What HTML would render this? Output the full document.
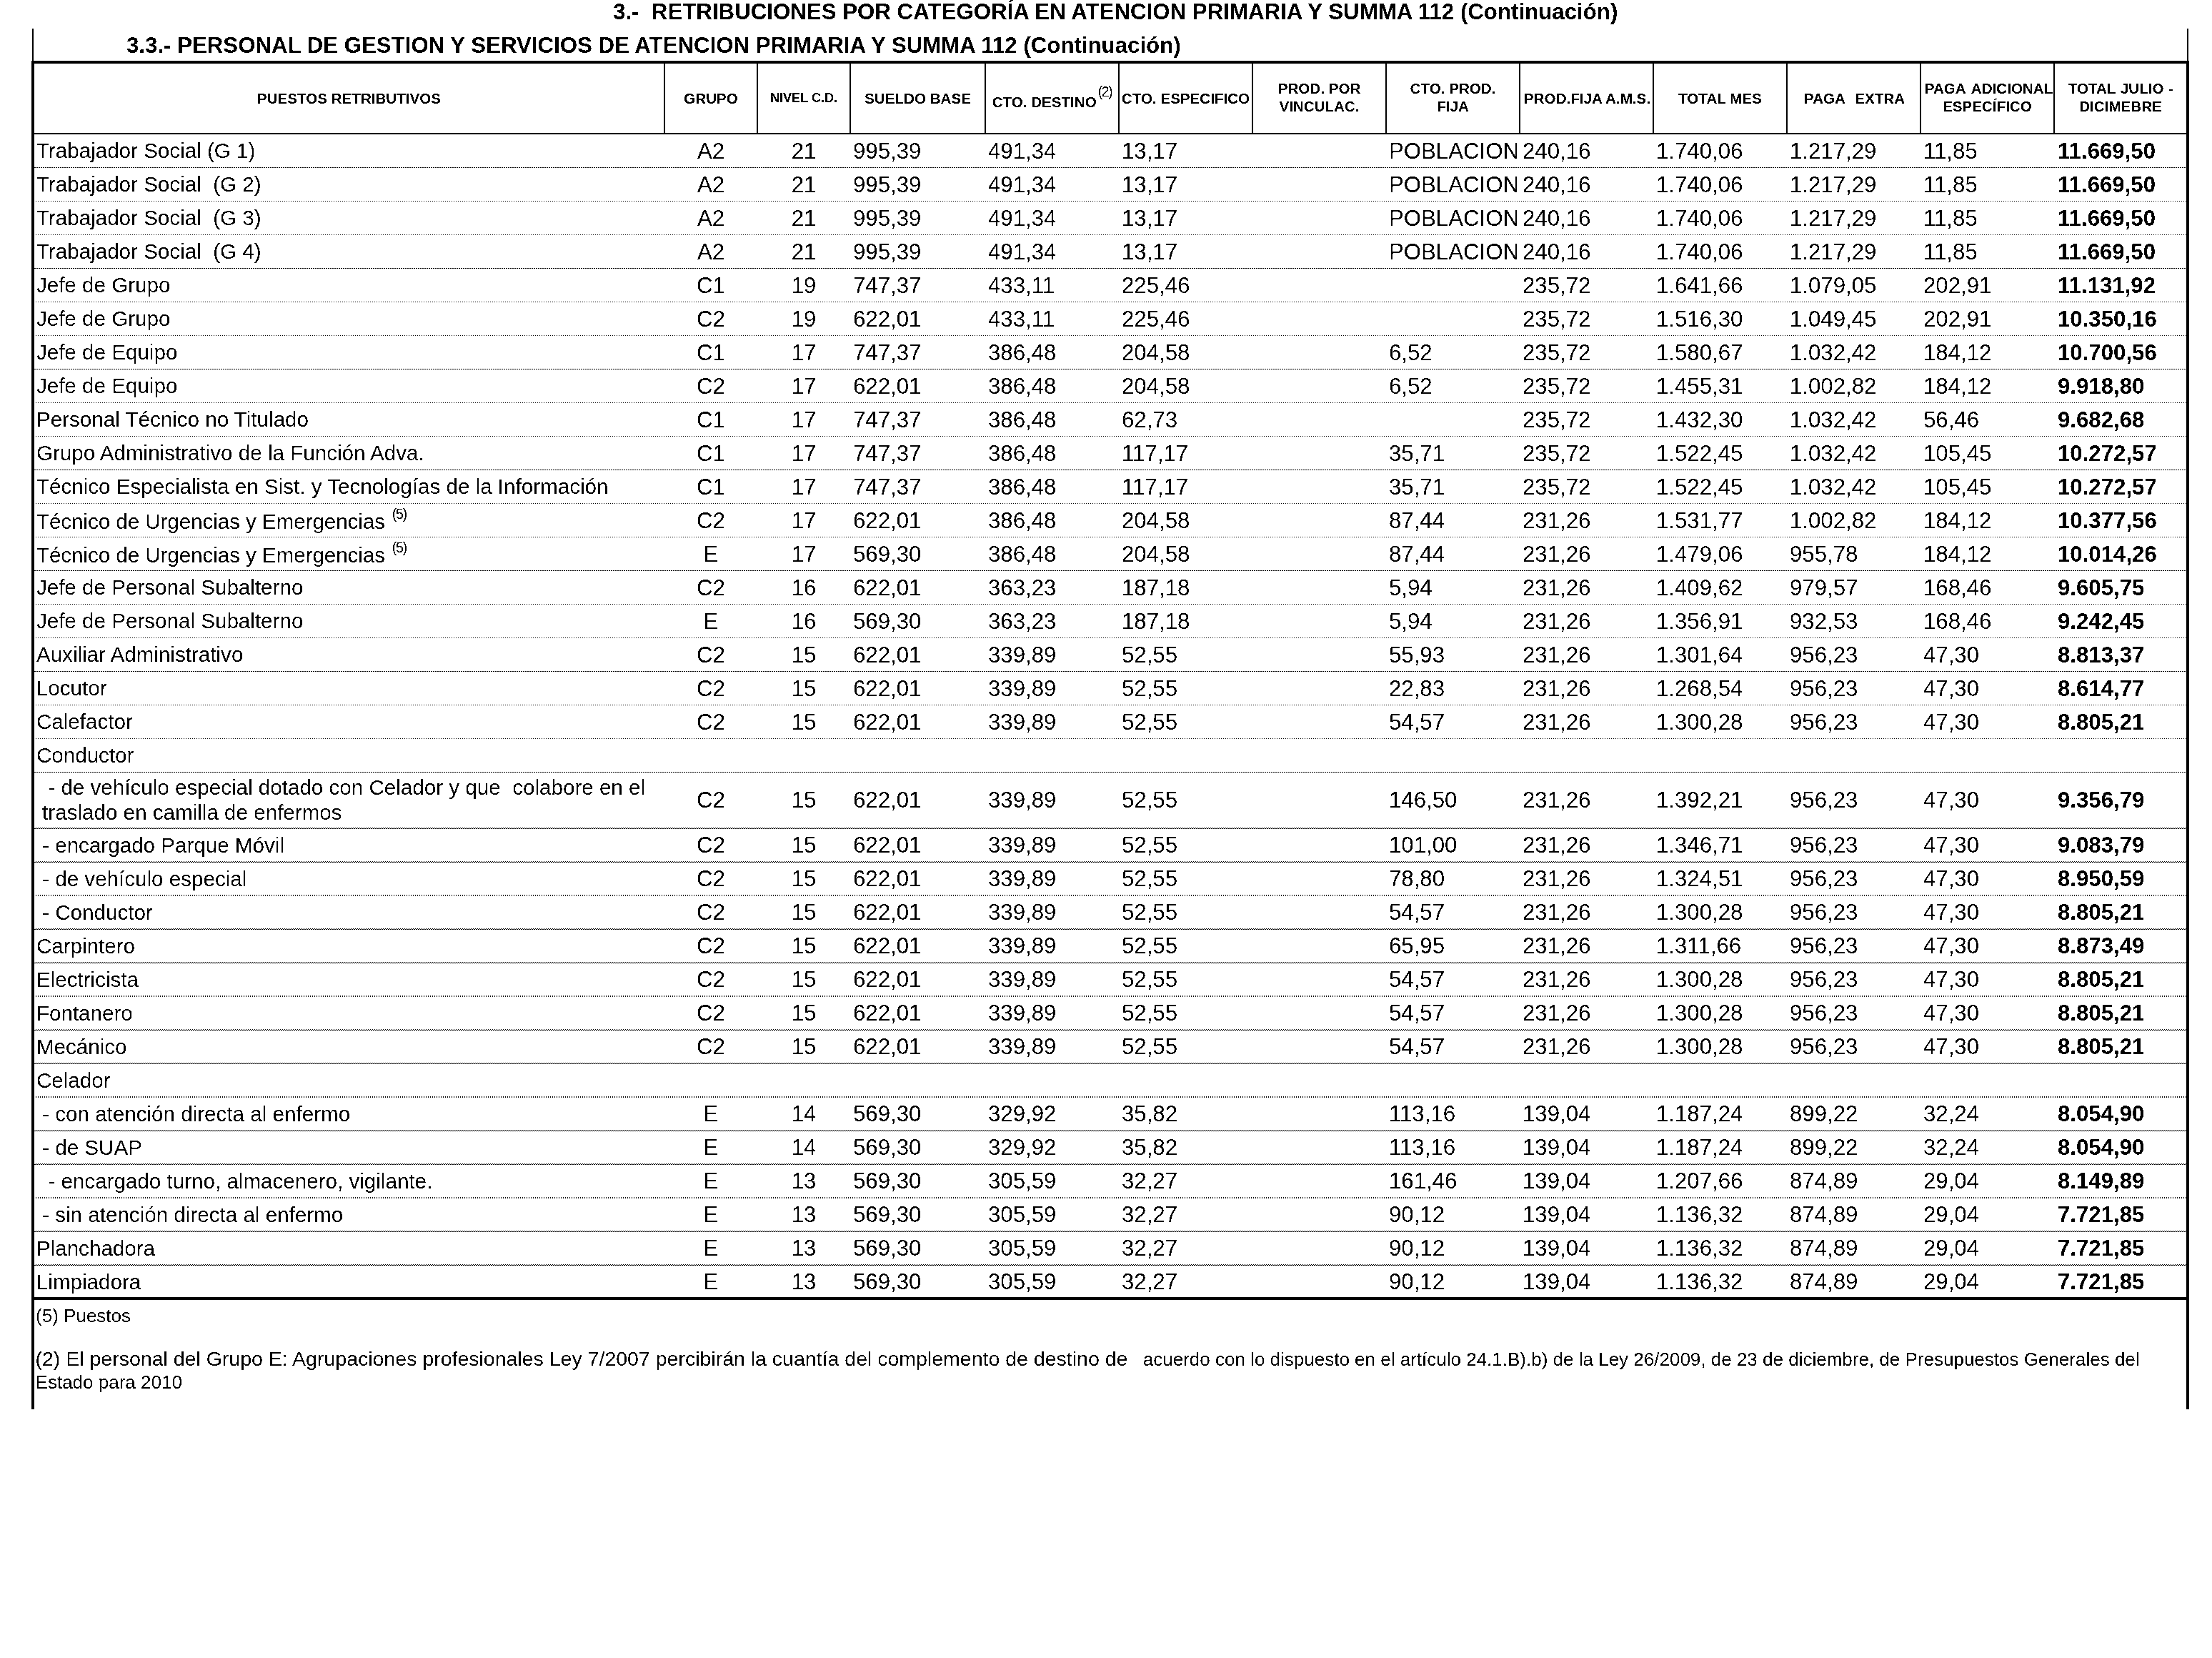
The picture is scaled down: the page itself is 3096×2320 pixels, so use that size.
<!DOCTYPE html>
<html lang="es"><head><meta charset="utf-8"><title>Retribuciones por categoría</title><style>
html,body{margin:0;padding:0;background:#fff;}
body{width:3096px;height:2320px;position:relative;overflow:hidden;font-family:"Liberation Sans",Arial,sans-serif;color:#000;}
#pg{position:absolute;left:0;top:0;width:3096px;height:2320px;background:#fff;filter:url(#bw);}
.t{position:absolute;white-space:pre;display:block;}
.t.c{text-align:center;}
.b{position:absolute;background:#000;}
.h{position:absolute;top:89px;height:97px;display:flex;align-items:center;justify-content:center;text-align:center;font-weight:bold;line-height:25px;white-space:pre;box-sizing:border-box;}
.h i{font-style:normal;}
.h sup{font-weight:normal;font-size:19.5px;line-height:0;vertical-align:14.6px;letter-spacing:-1.4px;margin-left:2px;}
.t sup{font-size:19.5px;line-height:0;vertical-align:13.8px;letter-spacing:-1.2px;margin-left:1.5px;}
.d1,.d2,.d3,.d4{position:absolute;left:48px;width:3012px;height:1px;}
.d1{background:repeating-linear-gradient(90deg,transparent 0 2px,#000 2px 3px);}
.d2{background:repeating-linear-gradient(90deg,#000 0 2px,transparent 2px 3px);}
.d3{height:2px;background:repeating-linear-gradient(90deg,transparent 0 2px,#000 2px 3px);}
.d4{background:repeating-linear-gradient(90deg,#000 0 2px,transparent 2px 3px);}
</style></head><body>
<svg width="0" height="0" style="position:absolute" aria-hidden="true"><filter id="bw" x="0" y="0" width="100%" height="100%" color-interpolation-filters="sRGB"><feComponentTransfer><feFuncR type="discrete" tableValues="0 1"/><feFuncG type="discrete" tableValues="0 1"/><feFuncB type="discrete" tableValues="0 1"/></feComponentTransfer></filter></svg>
<div id="pg">
<div class="b" style="left:45px;top:40px;width:2px;height:46px;"></div>
<div class="b" style="left:3061px;top:40px;width:2px;height:46px;"></div>
<div class="b" style="left:44px;top:85px;width:4px;height:1887px;"></div>
<div class="b" style="left:3060px;top:85px;width:4px;height:1887px;"></div>
<div class="b" style="left:44px;top:85px;width:3020px;height:4px;"></div>
<div class="b" style="left:44px;top:1815px;width:3020px;height:4px;"></div>
<div class="b" style="left:48px;top:186px;width:3012px;height:2px;"></div>
<div class="b" style="left:929px;top:89px;width:2px;height:97px;"></div>
<div class="b" style="left:1059px;top:89px;width:2px;height:97px;"></div>
<div class="b" style="left:1189px;top:89px;width:2px;height:97px;"></div>
<div class="b" style="left:1378px;top:89px;width:2px;height:97px;"></div>
<div class="b" style="left:1565px;top:89px;width:2px;height:97px;"></div>
<div class="b" style="left:1752px;top:89px;width:2px;height:97px;"></div>
<div class="b" style="left:1939px;top:89px;width:2px;height:97px;"></div>
<div class="b" style="left:2126px;top:89px;width:2px;height:97px;"></div>
<div class="b" style="left:2313px;top:89px;width:2px;height:97px;"></div>
<div class="b" style="left:2500px;top:89px;width:2px;height:97px;"></div>
<div class="b" style="left:2687px;top:89px;width:2px;height:97px;"></div>
<div class="b" style="left:2874px;top:89px;width:2px;height:97px;"></div>
<span class="t" style="left:858.00px;top:-2.83px;font-size:31.25px;line-height:40px;font-weight:bold;">3.-  RETRIBUCIONES POR CATEGORÍA EN ATENCION PRIMARIA Y SUMMA 112 (Continuación)</span>
<span class="t" style="left:177.00px;top:44.18px;font-size:31.22px;line-height:40px;font-weight:bold;">3.3.- PERSONAL DE GESTION Y SERVICIOS DE ATENCION PRIMARIA Y SUMMA 112 (Continuación)</span>
<div class="h" style="left:28px;width:921px;font-size:20.6px;"><span>PUESTOS RETRIBUTIVOS</span></div>
<div class="h" style="left:911px;width:168px;font-size:20.6px;"><span>GRUPO</span></div>
<div class="h" style="left:1041px;width:168px;font-size:18.1px;"><span>NIVEL C.D.</span></div>
<div class="h" style="left:1171px;width:227px;font-size:20.6px;"><span>SUELDO BASE</span></div>
<div class="h" style="left:1360px;width:225px;font-size:20.6px;padding-top:8px;"><span>CTO. DESTINO<sup>(2)</sup></span></div>
<div class="h" style="left:1547px;width:225px;font-size:20.6px;"><span>CTO. ESPECIFICO</span></div>
<div class="h" style="left:1734px;width:225px;font-size:20.6px;padding-bottom:3px;"><span>PROD. POR<br>VINCULAC.</span></div>
<div class="h" style="left:1921px;width:225px;font-size:20.6px;padding-bottom:3px;"><span>CTO. PROD.<br>FIJA</span></div>
<div class="h" style="left:2108px;width:225px;font-size:20.6px;"><span><i style="margin-left:2px">PROD.FIJA A.M.S.</i></span></div>
<div class="h" style="left:2295px;width:225px;font-size:20.6px;"><span>TOTAL MES</span></div>
<div class="h" style="left:2482px;width:225px;font-size:20.6px;"><span><i style="word-spacing:1.3px;margin-left:2px">PAGA  EXTRA</i></span></div>
<div class="h" style="left:2669px;width:225px;font-size:20.6px;padding-bottom:3px;"><span><i style="word-spacing:3px;margin-left:4px">PAGA ADICIONAL</i><br>ESPECÍFICO</span></div>
<div class="h" style="left:2856px;width:224px;font-size:20.6px;padding-bottom:3px;"><span><i style="word-spacing:1px;margin-left:1px">TOTAL JULIO -</i><br>DICIMEBRE</span></div>
<span class="t" style="left:50.90px;top:191.00px;font-size:29.6px;line-height:40px;">Trabajador Social (G 1)</span>
<span class="t c" style="left:931px;width:128px;top:192.00px;font-size:31.2px;line-height:40px">A2</span>
<span class="t c" style="left:1061px;width:128px;top:192.00px;font-size:31.2px;line-height:40px">21</span>
<span class="t" style="left:1194.00px;top:192.00px;font-size:31.2px;line-height:40px;">995,39</span>
<span class="t" style="left:1383.00px;top:192.00px;font-size:31.2px;line-height:40px;">491,34</span>
<span class="t" style="left:1570.00px;top:192.00px;font-size:31.2px;line-height:40px;">13,17</span>
<span class="t" style="left:1944.00px;top:192.00px;font-size:31.2px;line-height:40px;">POBLACION</span>
<span class="t" style="left:2131.00px;top:192.00px;font-size:31.2px;line-height:40px;">240,16</span>
<span class="t" style="left:2318.00px;top:192.00px;font-size:31.2px;line-height:40px;">1.740,06</span>
<span class="t" style="left:2505.00px;top:192.00px;font-size:31.2px;line-height:40px;">1.217,29</span>
<span class="t" style="left:2692.00px;top:192.00px;font-size:31.2px;line-height:40px;">11,85</span>
<span class="t" style="left:2880.00px;top:192.00px;font-size:31.2px;line-height:40px;font-weight:bold;">11.669,50</span>
<div class="d2" style="top:234px"></div>
<span class="t" style="left:50.90px;top:238.00px;font-size:29.6px;line-height:40px;">Trabajador Social  (G 2)</span>
<span class="t c" style="left:931px;width:128px;top:239.00px;font-size:31.2px;line-height:40px">A2</span>
<span class="t c" style="left:1061px;width:128px;top:239.00px;font-size:31.2px;line-height:40px">21</span>
<span class="t" style="left:1194.00px;top:239.00px;font-size:31.2px;line-height:40px;">995,39</span>
<span class="t" style="left:1383.00px;top:239.00px;font-size:31.2px;line-height:40px;">491,34</span>
<span class="t" style="left:1570.00px;top:239.00px;font-size:31.2px;line-height:40px;">13,17</span>
<span class="t" style="left:1944.00px;top:239.00px;font-size:31.2px;line-height:40px;">POBLACION</span>
<span class="t" style="left:2131.00px;top:239.00px;font-size:31.2px;line-height:40px;">240,16</span>
<span class="t" style="left:2318.00px;top:239.00px;font-size:31.2px;line-height:40px;">1.740,06</span>
<span class="t" style="left:2505.00px;top:239.00px;font-size:31.2px;line-height:40px;">1.217,29</span>
<span class="t" style="left:2692.00px;top:239.00px;font-size:31.2px;line-height:40px;">11,85</span>
<span class="t" style="left:2880.00px;top:239.00px;font-size:31.2px;line-height:40px;font-weight:bold;">11.669,50</span>
<div class="d1" style="top:281px"></div>
<span class="t" style="left:50.90px;top:285.00px;font-size:29.6px;line-height:40px;">Trabajador Social  (G 3)</span>
<span class="t c" style="left:931px;width:128px;top:286.00px;font-size:31.2px;line-height:40px">A2</span>
<span class="t c" style="left:1061px;width:128px;top:286.00px;font-size:31.2px;line-height:40px">21</span>
<span class="t" style="left:1194.00px;top:286.00px;font-size:31.2px;line-height:40px;">995,39</span>
<span class="t" style="left:1383.00px;top:286.00px;font-size:31.2px;line-height:40px;">491,34</span>
<span class="t" style="left:1570.00px;top:286.00px;font-size:31.2px;line-height:40px;">13,17</span>
<span class="t" style="left:1944.00px;top:286.00px;font-size:31.2px;line-height:40px;">POBLACION</span>
<span class="t" style="left:2131.00px;top:286.00px;font-size:31.2px;line-height:40px;">240,16</span>
<span class="t" style="left:2318.00px;top:286.00px;font-size:31.2px;line-height:40px;">1.740,06</span>
<span class="t" style="left:2505.00px;top:286.00px;font-size:31.2px;line-height:40px;">1.217,29</span>
<span class="t" style="left:2692.00px;top:286.00px;font-size:31.2px;line-height:40px;">11,85</span>
<span class="t" style="left:2880.00px;top:286.00px;font-size:31.2px;line-height:40px;font-weight:bold;">11.669,50</span>
<div class="d1" style="top:328px"></div>
<span class="t" style="left:50.90px;top:332.00px;font-size:29.6px;line-height:40px;">Trabajador Social  (G 4)</span>
<span class="t c" style="left:931px;width:128px;top:333.00px;font-size:31.2px;line-height:40px">A2</span>
<span class="t c" style="left:1061px;width:128px;top:333.00px;font-size:31.2px;line-height:40px">21</span>
<span class="t" style="left:1194.00px;top:333.00px;font-size:31.2px;line-height:40px;">995,39</span>
<span class="t" style="left:1383.00px;top:333.00px;font-size:31.2px;line-height:40px;">491,34</span>
<span class="t" style="left:1570.00px;top:333.00px;font-size:31.2px;line-height:40px;">13,17</span>
<span class="t" style="left:1944.00px;top:333.00px;font-size:31.2px;line-height:40px;">POBLACION</span>
<span class="t" style="left:2131.00px;top:333.00px;font-size:31.2px;line-height:40px;">240,16</span>
<span class="t" style="left:2318.00px;top:333.00px;font-size:31.2px;line-height:40px;">1.740,06</span>
<span class="t" style="left:2505.00px;top:333.00px;font-size:31.2px;line-height:40px;">1.217,29</span>
<span class="t" style="left:2692.00px;top:333.00px;font-size:31.2px;line-height:40px;">11,85</span>
<span class="t" style="left:2880.00px;top:333.00px;font-size:31.2px;line-height:40px;font-weight:bold;">11.669,50</span>
<div class="d2" style="top:375px"></div>
<span class="t" style="left:50.90px;top:379.00px;font-size:29.6px;line-height:40px;">Jefe de Grupo</span>
<span class="t c" style="left:931px;width:128px;top:380.00px;font-size:31.2px;line-height:40px">C1</span>
<span class="t c" style="left:1061px;width:128px;top:380.00px;font-size:31.2px;line-height:40px">19</span>
<span class="t" style="left:1194.00px;top:380.00px;font-size:31.2px;line-height:40px;">747,37</span>
<span class="t" style="left:1383.00px;top:380.00px;font-size:31.2px;line-height:40px;">433,11</span>
<span class="t" style="left:1570.00px;top:380.00px;font-size:31.2px;line-height:40px;">225,46</span>
<span class="t" style="left:2131.00px;top:380.00px;font-size:31.2px;line-height:40px;">235,72</span>
<span class="t" style="left:2318.00px;top:380.00px;font-size:31.2px;line-height:40px;">1.641,66</span>
<span class="t" style="left:2505.00px;top:380.00px;font-size:31.2px;line-height:40px;">1.079,05</span>
<span class="t" style="left:2692.00px;top:380.00px;font-size:31.2px;line-height:40px;">202,91</span>
<span class="t" style="left:2880.00px;top:380.00px;font-size:31.2px;line-height:40px;font-weight:bold;">11.131,92</span>
<div class="d1" style="top:422px"></div>
<span class="t" style="left:50.90px;top:426.00px;font-size:29.6px;line-height:40px;">Jefe de Grupo</span>
<span class="t c" style="left:931px;width:128px;top:427.00px;font-size:31.2px;line-height:40px">C2</span>
<span class="t c" style="left:1061px;width:128px;top:427.00px;font-size:31.2px;line-height:40px">19</span>
<span class="t" style="left:1194.00px;top:427.00px;font-size:31.2px;line-height:40px;">622,01</span>
<span class="t" style="left:1383.00px;top:427.00px;font-size:31.2px;line-height:40px;">433,11</span>
<span class="t" style="left:1570.00px;top:427.00px;font-size:31.2px;line-height:40px;">225,46</span>
<span class="t" style="left:2131.00px;top:427.00px;font-size:31.2px;line-height:40px;">235,72</span>
<span class="t" style="left:2318.00px;top:427.00px;font-size:31.2px;line-height:40px;">1.516,30</span>
<span class="t" style="left:2505.00px;top:427.00px;font-size:31.2px;line-height:40px;">1.049,45</span>
<span class="t" style="left:2692.00px;top:427.00px;font-size:31.2px;line-height:40px;">202,91</span>
<span class="t" style="left:2880.00px;top:427.00px;font-size:31.2px;line-height:40px;font-weight:bold;">10.350,16</span>
<div class="d1" style="top:469px"></div>
<span class="t" style="left:50.90px;top:473.00px;font-size:29.6px;line-height:40px;">Jefe de Equipo</span>
<span class="t c" style="left:931px;width:128px;top:474.00px;font-size:31.2px;line-height:40px">C1</span>
<span class="t c" style="left:1061px;width:128px;top:474.00px;font-size:31.2px;line-height:40px">17</span>
<span class="t" style="left:1194.00px;top:474.00px;font-size:31.2px;line-height:40px;">747,37</span>
<span class="t" style="left:1383.00px;top:474.00px;font-size:31.2px;line-height:40px;">386,48</span>
<span class="t" style="left:1570.00px;top:474.00px;font-size:31.2px;line-height:40px;">204,58</span>
<span class="t" style="left:1944.00px;top:474.00px;font-size:31.2px;line-height:40px;">6,52</span>
<span class="t" style="left:2131.00px;top:474.00px;font-size:31.2px;line-height:40px;">235,72</span>
<span class="t" style="left:2318.00px;top:474.00px;font-size:31.2px;line-height:40px;">1.580,67</span>
<span class="t" style="left:2505.00px;top:474.00px;font-size:31.2px;line-height:40px;">1.032,42</span>
<span class="t" style="left:2692.00px;top:474.00px;font-size:31.2px;line-height:40px;">184,12</span>
<span class="t" style="left:2880.00px;top:474.00px;font-size:31.2px;line-height:40px;font-weight:bold;">10.700,56</span>
<div class="d2" style="top:516px"></div>
<span class="t" style="left:50.90px;top:520.00px;font-size:29.6px;line-height:40px;">Jefe de Equipo</span>
<span class="t c" style="left:931px;width:128px;top:521.00px;font-size:31.2px;line-height:40px">C2</span>
<span class="t c" style="left:1061px;width:128px;top:521.00px;font-size:31.2px;line-height:40px">17</span>
<span class="t" style="left:1194.00px;top:521.00px;font-size:31.2px;line-height:40px;">622,01</span>
<span class="t" style="left:1383.00px;top:521.00px;font-size:31.2px;line-height:40px;">386,48</span>
<span class="t" style="left:1570.00px;top:521.00px;font-size:31.2px;line-height:40px;">204,58</span>
<span class="t" style="left:1944.00px;top:521.00px;font-size:31.2px;line-height:40px;">6,52</span>
<span class="t" style="left:2131.00px;top:521.00px;font-size:31.2px;line-height:40px;">235,72</span>
<span class="t" style="left:2318.00px;top:521.00px;font-size:31.2px;line-height:40px;">1.455,31</span>
<span class="t" style="left:2505.00px;top:521.00px;font-size:31.2px;line-height:40px;">1.002,82</span>
<span class="t" style="left:2692.00px;top:521.00px;font-size:31.2px;line-height:40px;">184,12</span>
<span class="t" style="left:2880.00px;top:521.00px;font-size:31.2px;line-height:40px;font-weight:bold;">9.918,80</span>
<div class="d1" style="top:563px"></div>
<span class="t" style="left:50.90px;top:567.00px;font-size:29.6px;line-height:40px;">Personal Técnico no Titulado</span>
<span class="t c" style="left:931px;width:128px;top:568.00px;font-size:31.2px;line-height:40px">C1</span>
<span class="t c" style="left:1061px;width:128px;top:568.00px;font-size:31.2px;line-height:40px">17</span>
<span class="t" style="left:1194.00px;top:568.00px;font-size:31.2px;line-height:40px;">747,37</span>
<span class="t" style="left:1383.00px;top:568.00px;font-size:31.2px;line-height:40px;">386,48</span>
<span class="t" style="left:1570.00px;top:568.00px;font-size:31.2px;line-height:40px;">62,73</span>
<span class="t" style="left:2131.00px;top:568.00px;font-size:31.2px;line-height:40px;">235,72</span>
<span class="t" style="left:2318.00px;top:568.00px;font-size:31.2px;line-height:40px;">1.432,30</span>
<span class="t" style="left:2505.00px;top:568.00px;font-size:31.2px;line-height:40px;">1.032,42</span>
<span class="t" style="left:2692.00px;top:568.00px;font-size:31.2px;line-height:40px;">56,46</span>
<span class="t" style="left:2880.00px;top:568.00px;font-size:31.2px;line-height:40px;font-weight:bold;">9.682,68</span>
<div class="d1" style="top:610px"></div>
<span class="t" style="left:50.90px;top:614.00px;font-size:29.6px;line-height:40px;">Grupo Administrativo de la Función Adva.</span>
<span class="t c" style="left:931px;width:128px;top:615.00px;font-size:31.2px;line-height:40px">C1</span>
<span class="t c" style="left:1061px;width:128px;top:615.00px;font-size:31.2px;line-height:40px">17</span>
<span class="t" style="left:1194.00px;top:615.00px;font-size:31.2px;line-height:40px;">747,37</span>
<span class="t" style="left:1383.00px;top:615.00px;font-size:31.2px;line-height:40px;">386,48</span>
<span class="t" style="left:1570.00px;top:615.00px;font-size:31.2px;line-height:40px;">117,17</span>
<span class="t" style="left:1944.00px;top:615.00px;font-size:31.2px;line-height:40px;">35,71</span>
<span class="t" style="left:2131.00px;top:615.00px;font-size:31.2px;line-height:40px;">235,72</span>
<span class="t" style="left:2318.00px;top:615.00px;font-size:31.2px;line-height:40px;">1.522,45</span>
<span class="t" style="left:2505.00px;top:615.00px;font-size:31.2px;line-height:40px;">1.032,42</span>
<span class="t" style="left:2692.00px;top:615.00px;font-size:31.2px;line-height:40px;">105,45</span>
<span class="t" style="left:2880.00px;top:615.00px;font-size:31.2px;line-height:40px;font-weight:bold;">10.272,57</span>
<div class="d2" style="top:657px"></div>
<span class="t" style="left:50.90px;top:661.00px;font-size:29.6px;line-height:40px;">Técnico Especialista en Sist. y Tecnologías de la Información</span>
<span class="t c" style="left:931px;width:128px;top:662.00px;font-size:31.2px;line-height:40px">C1</span>
<span class="t c" style="left:1061px;width:128px;top:662.00px;font-size:31.2px;line-height:40px">17</span>
<span class="t" style="left:1194.00px;top:662.00px;font-size:31.2px;line-height:40px;">747,37</span>
<span class="t" style="left:1383.00px;top:662.00px;font-size:31.2px;line-height:40px;">386,48</span>
<span class="t" style="left:1570.00px;top:662.00px;font-size:31.2px;line-height:40px;">117,17</span>
<span class="t" style="left:1944.00px;top:662.00px;font-size:31.2px;line-height:40px;">35,71</span>
<span class="t" style="left:2131.00px;top:662.00px;font-size:31.2px;line-height:40px;">235,72</span>
<span class="t" style="left:2318.00px;top:662.00px;font-size:31.2px;line-height:40px;">1.522,45</span>
<span class="t" style="left:2505.00px;top:662.00px;font-size:31.2px;line-height:40px;">1.032,42</span>
<span class="t" style="left:2692.00px;top:662.00px;font-size:31.2px;line-height:40px;">105,45</span>
<span class="t" style="left:2880.00px;top:662.00px;font-size:31.2px;line-height:40px;font-weight:bold;">10.272,57</span>
<div class="d1" style="top:704px"></div>
<span class="t" style="left:50.90px;top:709.50px;font-size:29.6px;line-height:40px;letter-spacing:-0.06px;">Técnico de Urgencias y Emergencias <sup>(5)</sup></span>
<span class="t c" style="left:931px;width:128px;top:709.00px;font-size:31.2px;line-height:40px">C2</span>
<span class="t c" style="left:1061px;width:128px;top:709.00px;font-size:31.2px;line-height:40px">17</span>
<span class="t" style="left:1194.00px;top:709.00px;font-size:31.2px;line-height:40px;">622,01</span>
<span class="t" style="left:1383.00px;top:709.00px;font-size:31.2px;line-height:40px;">386,48</span>
<span class="t" style="left:1570.00px;top:709.00px;font-size:31.2px;line-height:40px;">204,58</span>
<span class="t" style="left:1944.00px;top:709.00px;font-size:31.2px;line-height:40px;">87,44</span>
<span class="t" style="left:2131.00px;top:709.00px;font-size:31.2px;line-height:40px;">231,26</span>
<span class="t" style="left:2318.00px;top:709.00px;font-size:31.2px;line-height:40px;">1.531,77</span>
<span class="t" style="left:2505.00px;top:709.00px;font-size:31.2px;line-height:40px;">1.002,82</span>
<span class="t" style="left:2692.00px;top:709.00px;font-size:31.2px;line-height:40px;">184,12</span>
<span class="t" style="left:2880.00px;top:709.00px;font-size:31.2px;line-height:40px;font-weight:bold;">10.377,56</span>
<div class="d1" style="top:751px"></div>
<span class="t" style="left:50.90px;top:756.50px;font-size:29.6px;line-height:40px;letter-spacing:-0.06px;">Técnico de Urgencias y Emergencias <sup>(5)</sup></span>
<span class="t c" style="left:931px;width:128px;top:756.00px;font-size:31.2px;line-height:40px">E</span>
<span class="t c" style="left:1061px;width:128px;top:756.00px;font-size:31.2px;line-height:40px">17</span>
<span class="t" style="left:1194.00px;top:756.00px;font-size:31.2px;line-height:40px;">569,30</span>
<span class="t" style="left:1383.00px;top:756.00px;font-size:31.2px;line-height:40px;">386,48</span>
<span class="t" style="left:1570.00px;top:756.00px;font-size:31.2px;line-height:40px;">204,58</span>
<span class="t" style="left:1944.00px;top:756.00px;font-size:31.2px;line-height:40px;">87,44</span>
<span class="t" style="left:2131.00px;top:756.00px;font-size:31.2px;line-height:40px;">231,26</span>
<span class="t" style="left:2318.00px;top:756.00px;font-size:31.2px;line-height:40px;">1.479,06</span>
<span class="t" style="left:2505.00px;top:756.00px;font-size:31.2px;line-height:40px;">955,78</span>
<span class="t" style="left:2692.00px;top:756.00px;font-size:31.2px;line-height:40px;">184,12</span>
<span class="t" style="left:2880.00px;top:756.00px;font-size:31.2px;line-height:40px;font-weight:bold;">10.014,26</span>
<div class="d2" style="top:798px"></div>
<span class="t" style="left:50.90px;top:802.00px;font-size:29.6px;line-height:40px;">Jefe de Personal Subalterno</span>
<span class="t c" style="left:931px;width:128px;top:803.00px;font-size:31.2px;line-height:40px">C2</span>
<span class="t c" style="left:1061px;width:128px;top:803.00px;font-size:31.2px;line-height:40px">16</span>
<span class="t" style="left:1194.00px;top:803.00px;font-size:31.2px;line-height:40px;">622,01</span>
<span class="t" style="left:1383.00px;top:803.00px;font-size:31.2px;line-height:40px;">363,23</span>
<span class="t" style="left:1570.00px;top:803.00px;font-size:31.2px;line-height:40px;">187,18</span>
<span class="t" style="left:1944.00px;top:803.00px;font-size:31.2px;line-height:40px;">5,94</span>
<span class="t" style="left:2131.00px;top:803.00px;font-size:31.2px;line-height:40px;">231,26</span>
<span class="t" style="left:2318.00px;top:803.00px;font-size:31.2px;line-height:40px;">1.409,62</span>
<span class="t" style="left:2505.00px;top:803.00px;font-size:31.2px;line-height:40px;">979,57</span>
<span class="t" style="left:2692.00px;top:803.00px;font-size:31.2px;line-height:40px;">168,46</span>
<span class="t" style="left:2880.00px;top:803.00px;font-size:31.2px;line-height:40px;font-weight:bold;">9.605,75</span>
<div class="d1" style="top:845px"></div>
<span class="t" style="left:50.90px;top:849.00px;font-size:29.6px;line-height:40px;">Jefe de Personal Subalterno</span>
<span class="t c" style="left:931px;width:128px;top:850.00px;font-size:31.2px;line-height:40px">E</span>
<span class="t c" style="left:1061px;width:128px;top:850.00px;font-size:31.2px;line-height:40px">16</span>
<span class="t" style="left:1194.00px;top:850.00px;font-size:31.2px;line-height:40px;">569,30</span>
<span class="t" style="left:1383.00px;top:850.00px;font-size:31.2px;line-height:40px;">363,23</span>
<span class="t" style="left:1570.00px;top:850.00px;font-size:31.2px;line-height:40px;">187,18</span>
<span class="t" style="left:1944.00px;top:850.00px;font-size:31.2px;line-height:40px;">5,94</span>
<span class="t" style="left:2131.00px;top:850.00px;font-size:31.2px;line-height:40px;">231,26</span>
<span class="t" style="left:2318.00px;top:850.00px;font-size:31.2px;line-height:40px;">1.356,91</span>
<span class="t" style="left:2505.00px;top:850.00px;font-size:31.2px;line-height:40px;">932,53</span>
<span class="t" style="left:2692.00px;top:850.00px;font-size:31.2px;line-height:40px;">168,46</span>
<span class="t" style="left:2880.00px;top:850.00px;font-size:31.2px;line-height:40px;font-weight:bold;">9.242,45</span>
<div class="d1" style="top:892px"></div>
<span class="t" style="left:50.90px;top:896.00px;font-size:29.6px;line-height:40px;">Auxiliar Administrativo</span>
<span class="t c" style="left:931px;width:128px;top:897.00px;font-size:31.2px;line-height:40px">C2</span>
<span class="t c" style="left:1061px;width:128px;top:897.00px;font-size:31.2px;line-height:40px">15</span>
<span class="t" style="left:1194.00px;top:897.00px;font-size:31.2px;line-height:40px;">622,01</span>
<span class="t" style="left:1383.00px;top:897.00px;font-size:31.2px;line-height:40px;">339,89</span>
<span class="t" style="left:1570.00px;top:897.00px;font-size:31.2px;line-height:40px;">52,55</span>
<span class="t" style="left:1944.00px;top:897.00px;font-size:31.2px;line-height:40px;">55,93</span>
<span class="t" style="left:2131.00px;top:897.00px;font-size:31.2px;line-height:40px;">231,26</span>
<span class="t" style="left:2318.00px;top:897.00px;font-size:31.2px;line-height:40px;">1.301,64</span>
<span class="t" style="left:2505.00px;top:897.00px;font-size:31.2px;line-height:40px;">956,23</span>
<span class="t" style="left:2692.00px;top:897.00px;font-size:31.2px;line-height:40px;">47,30</span>
<span class="t" style="left:2880.00px;top:897.00px;font-size:31.2px;line-height:40px;font-weight:bold;">8.813,37</span>
<div class="d2" style="top:939px"></div>
<span class="t" style="left:50.90px;top:943.00px;font-size:29.6px;line-height:40px;">Locutor</span>
<span class="t c" style="left:931px;width:128px;top:944.00px;font-size:31.2px;line-height:40px">C2</span>
<span class="t c" style="left:1061px;width:128px;top:944.00px;font-size:31.2px;line-height:40px">15</span>
<span class="t" style="left:1194.00px;top:944.00px;font-size:31.2px;line-height:40px;">622,01</span>
<span class="t" style="left:1383.00px;top:944.00px;font-size:31.2px;line-height:40px;">339,89</span>
<span class="t" style="left:1570.00px;top:944.00px;font-size:31.2px;line-height:40px;">52,55</span>
<span class="t" style="left:1944.00px;top:944.00px;font-size:31.2px;line-height:40px;">22,83</span>
<span class="t" style="left:2131.00px;top:944.00px;font-size:31.2px;line-height:40px;">231,26</span>
<span class="t" style="left:2318.00px;top:944.00px;font-size:31.2px;line-height:40px;">1.268,54</span>
<span class="t" style="left:2505.00px;top:944.00px;font-size:31.2px;line-height:40px;">956,23</span>
<span class="t" style="left:2692.00px;top:944.00px;font-size:31.2px;line-height:40px;">47,30</span>
<span class="t" style="left:2880.00px;top:944.00px;font-size:31.2px;line-height:40px;font-weight:bold;">8.614,77</span>
<div class="d1" style="top:986px"></div>
<span class="t" style="left:50.90px;top:990.00px;font-size:29.6px;line-height:40px;">Calefactor</span>
<span class="t c" style="left:931px;width:128px;top:991.00px;font-size:31.2px;line-height:40px">C2</span>
<span class="t c" style="left:1061px;width:128px;top:991.00px;font-size:31.2px;line-height:40px">15</span>
<span class="t" style="left:1194.00px;top:991.00px;font-size:31.2px;line-height:40px;">622,01</span>
<span class="t" style="left:1383.00px;top:991.00px;font-size:31.2px;line-height:40px;">339,89</span>
<span class="t" style="left:1570.00px;top:991.00px;font-size:31.2px;line-height:40px;">52,55</span>
<span class="t" style="left:1944.00px;top:991.00px;font-size:31.2px;line-height:40px;">54,57</span>
<span class="t" style="left:2131.00px;top:991.00px;font-size:31.2px;line-height:40px;">231,26</span>
<span class="t" style="left:2318.00px;top:991.00px;font-size:31.2px;line-height:40px;">1.300,28</span>
<span class="t" style="left:2505.00px;top:991.00px;font-size:31.2px;line-height:40px;">956,23</span>
<span class="t" style="left:2692.00px;top:991.00px;font-size:31.2px;line-height:40px;">47,30</span>
<span class="t" style="left:2880.00px;top:991.00px;font-size:31.2px;line-height:40px;font-weight:bold;">8.805,21</span>
<div class="d1" style="top:1033px"></div>
<span class="t" style="left:50.90px;top:1037.00px;font-size:29.6px;line-height:40px;">Conductor</span>
<div class="d2" style="top:1080px"></div>
<span class="t" style="left:50.90px;top:1082.44px;font-size:29.6px;line-height:40px;">  - de vehículo especial dotado con Celador y que  colabore en el</span>
<span class="t" style="left:50.90px;top:1117.44px;font-size:29.6px;line-height:40px;"> traslado en camilla de enfermos</span>
<span class="t c" style="left:931px;width:128px;top:1100.00px;font-size:31.2px;line-height:40px">C2</span>
<span class="t c" style="left:1061px;width:128px;top:1100.00px;font-size:31.2px;line-height:40px">15</span>
<span class="t" style="left:1194.00px;top:1100.00px;font-size:31.2px;line-height:40px;">622,01</span>
<span class="t" style="left:1383.00px;top:1100.00px;font-size:31.2px;line-height:40px;">339,89</span>
<span class="t" style="left:1570.00px;top:1100.00px;font-size:31.2px;line-height:40px;">52,55</span>
<span class="t" style="left:1944.00px;top:1100.00px;font-size:31.2px;line-height:40px;">146,50</span>
<span class="t" style="left:2131.00px;top:1100.00px;font-size:31.2px;line-height:40px;">231,26</span>
<span class="t" style="left:2318.00px;top:1100.00px;font-size:31.2px;line-height:40px;">1.392,21</span>
<span class="t" style="left:2505.00px;top:1100.00px;font-size:31.2px;line-height:40px;">956,23</span>
<span class="t" style="left:2692.00px;top:1100.00px;font-size:31.2px;line-height:40px;">47,30</span>
<span class="t" style="left:2880.00px;top:1100.00px;font-size:31.2px;line-height:40px;font-weight:bold;">9.356,79</span>
<div class="d1" style="top:1158px"></div><div class="d4" style="top:1159px"></div>
<span class="t" style="left:50.90px;top:1163.00px;font-size:29.6px;line-height:40px;"> - encargado Parque Móvil</span>
<span class="t c" style="left:931px;width:128px;top:1163.00px;font-size:31.2px;line-height:40px">C2</span>
<span class="t c" style="left:1061px;width:128px;top:1163.00px;font-size:31.2px;line-height:40px">15</span>
<span class="t" style="left:1194.00px;top:1163.00px;font-size:31.2px;line-height:40px;">622,01</span>
<span class="t" style="left:1383.00px;top:1163.00px;font-size:31.2px;line-height:40px;">339,89</span>
<span class="t" style="left:1570.00px;top:1163.00px;font-size:31.2px;line-height:40px;">52,55</span>
<span class="t" style="left:1944.00px;top:1163.00px;font-size:31.2px;line-height:40px;">101,00</span>
<span class="t" style="left:2131.00px;top:1163.00px;font-size:31.2px;line-height:40px;">231,26</span>
<span class="t" style="left:2318.00px;top:1163.00px;font-size:31.2px;line-height:40px;">1.346,71</span>
<span class="t" style="left:2505.00px;top:1163.00px;font-size:31.2px;line-height:40px;">956,23</span>
<span class="t" style="left:2692.00px;top:1163.00px;font-size:31.2px;line-height:40px;">47,30</span>
<span class="t" style="left:2880.00px;top:1163.00px;font-size:31.2px;line-height:40px;font-weight:bold;">9.083,79</span>
<div class="d1" style="top:1205px"></div><div class="d4" style="top:1206px"></div>
<span class="t" style="left:50.90px;top:1210.00px;font-size:29.6px;line-height:40px;"> - de vehículo especial</span>
<span class="t c" style="left:931px;width:128px;top:1210.00px;font-size:31.2px;line-height:40px">C2</span>
<span class="t c" style="left:1061px;width:128px;top:1210.00px;font-size:31.2px;line-height:40px">15</span>
<span class="t" style="left:1194.00px;top:1210.00px;font-size:31.2px;line-height:40px;">622,01</span>
<span class="t" style="left:1383.00px;top:1210.00px;font-size:31.2px;line-height:40px;">339,89</span>
<span class="t" style="left:1570.00px;top:1210.00px;font-size:31.2px;line-height:40px;">52,55</span>
<span class="t" style="left:1944.00px;top:1210.00px;font-size:31.2px;line-height:40px;">78,80</span>
<span class="t" style="left:2131.00px;top:1210.00px;font-size:31.2px;line-height:40px;">231,26</span>
<span class="t" style="left:2318.00px;top:1210.00px;font-size:31.2px;line-height:40px;">1.324,51</span>
<span class="t" style="left:2505.00px;top:1210.00px;font-size:31.2px;line-height:40px;">956,23</span>
<span class="t" style="left:2692.00px;top:1210.00px;font-size:31.2px;line-height:40px;">47,30</span>
<span class="t" style="left:2880.00px;top:1210.00px;font-size:31.2px;line-height:40px;font-weight:bold;">8.950,59</span>
<div class="d3" style="top:1252px"></div>
<span class="t" style="left:50.90px;top:1257.00px;font-size:29.6px;line-height:40px;"> - Conductor</span>
<span class="t c" style="left:931px;width:128px;top:1257.00px;font-size:31.2px;line-height:40px">C2</span>
<span class="t c" style="left:1061px;width:128px;top:1257.00px;font-size:31.2px;line-height:40px">15</span>
<span class="t" style="left:1194.00px;top:1257.00px;font-size:31.2px;line-height:40px;">622,01</span>
<span class="t" style="left:1383.00px;top:1257.00px;font-size:31.2px;line-height:40px;">339,89</span>
<span class="t" style="left:1570.00px;top:1257.00px;font-size:31.2px;line-height:40px;">52,55</span>
<span class="t" style="left:1944.00px;top:1257.00px;font-size:31.2px;line-height:40px;">54,57</span>
<span class="t" style="left:2131.00px;top:1257.00px;font-size:31.2px;line-height:40px;">231,26</span>
<span class="t" style="left:2318.00px;top:1257.00px;font-size:31.2px;line-height:40px;">1.300,28</span>
<span class="t" style="left:2505.00px;top:1257.00px;font-size:31.2px;line-height:40px;">956,23</span>
<span class="t" style="left:2692.00px;top:1257.00px;font-size:31.2px;line-height:40px;">47,30</span>
<span class="t" style="left:2880.00px;top:1257.00px;font-size:31.2px;line-height:40px;font-weight:bold;">8.805,21</span>
<div class="d1" style="top:1299px"></div><div class="d4" style="top:1300px"></div>
<span class="t" style="left:50.90px;top:1304.00px;font-size:29.6px;line-height:40px;">Carpintero</span>
<span class="t c" style="left:931px;width:128px;top:1304.00px;font-size:31.2px;line-height:40px">C2</span>
<span class="t c" style="left:1061px;width:128px;top:1304.00px;font-size:31.2px;line-height:40px">15</span>
<span class="t" style="left:1194.00px;top:1304.00px;font-size:31.2px;line-height:40px;">622,01</span>
<span class="t" style="left:1383.00px;top:1304.00px;font-size:31.2px;line-height:40px;">339,89</span>
<span class="t" style="left:1570.00px;top:1304.00px;font-size:31.2px;line-height:40px;">52,55</span>
<span class="t" style="left:1944.00px;top:1304.00px;font-size:31.2px;line-height:40px;">65,95</span>
<span class="t" style="left:2131.00px;top:1304.00px;font-size:31.2px;line-height:40px;">231,26</span>
<span class="t" style="left:2318.00px;top:1304.00px;font-size:31.2px;line-height:40px;">1.311,66</span>
<span class="t" style="left:2505.00px;top:1304.00px;font-size:31.2px;line-height:40px;">956,23</span>
<span class="t" style="left:2692.00px;top:1304.00px;font-size:31.2px;line-height:40px;">47,30</span>
<span class="t" style="left:2880.00px;top:1304.00px;font-size:31.2px;line-height:40px;font-weight:bold;">8.873,49</span>
<div class="d1" style="top:1346px"></div><div class="d4" style="top:1347px"></div>
<span class="t" style="left:50.90px;top:1351.00px;font-size:29.6px;line-height:40px;">Electricista</span>
<span class="t c" style="left:931px;width:128px;top:1351.00px;font-size:31.2px;line-height:40px">C2</span>
<span class="t c" style="left:1061px;width:128px;top:1351.00px;font-size:31.2px;line-height:40px">15</span>
<span class="t" style="left:1194.00px;top:1351.00px;font-size:31.2px;line-height:40px;">622,01</span>
<span class="t" style="left:1383.00px;top:1351.00px;font-size:31.2px;line-height:40px;">339,89</span>
<span class="t" style="left:1570.00px;top:1351.00px;font-size:31.2px;line-height:40px;">52,55</span>
<span class="t" style="left:1944.00px;top:1351.00px;font-size:31.2px;line-height:40px;">54,57</span>
<span class="t" style="left:2131.00px;top:1351.00px;font-size:31.2px;line-height:40px;">231,26</span>
<span class="t" style="left:2318.00px;top:1351.00px;font-size:31.2px;line-height:40px;">1.300,28</span>
<span class="t" style="left:2505.00px;top:1351.00px;font-size:31.2px;line-height:40px;">956,23</span>
<span class="t" style="left:2692.00px;top:1351.00px;font-size:31.2px;line-height:40px;">47,30</span>
<span class="t" style="left:2880.00px;top:1351.00px;font-size:31.2px;line-height:40px;font-weight:bold;">8.805,21</span>
<div class="d3" style="top:1393px"></div>
<span class="t" style="left:50.90px;top:1398.00px;font-size:29.6px;line-height:40px;">Fontanero</span>
<span class="t c" style="left:931px;width:128px;top:1398.00px;font-size:31.2px;line-height:40px">C2</span>
<span class="t c" style="left:1061px;width:128px;top:1398.00px;font-size:31.2px;line-height:40px">15</span>
<span class="t" style="left:1194.00px;top:1398.00px;font-size:31.2px;line-height:40px;">622,01</span>
<span class="t" style="left:1383.00px;top:1398.00px;font-size:31.2px;line-height:40px;">339,89</span>
<span class="t" style="left:1570.00px;top:1398.00px;font-size:31.2px;line-height:40px;">52,55</span>
<span class="t" style="left:1944.00px;top:1398.00px;font-size:31.2px;line-height:40px;">54,57</span>
<span class="t" style="left:2131.00px;top:1398.00px;font-size:31.2px;line-height:40px;">231,26</span>
<span class="t" style="left:2318.00px;top:1398.00px;font-size:31.2px;line-height:40px;">1.300,28</span>
<span class="t" style="left:2505.00px;top:1398.00px;font-size:31.2px;line-height:40px;">956,23</span>
<span class="t" style="left:2692.00px;top:1398.00px;font-size:31.2px;line-height:40px;">47,30</span>
<span class="t" style="left:2880.00px;top:1398.00px;font-size:31.2px;line-height:40px;font-weight:bold;">8.805,21</span>
<div class="d1" style="top:1440px"></div><div class="d4" style="top:1441px"></div>
<span class="t" style="left:50.90px;top:1445.00px;font-size:29.6px;line-height:40px;">Mecánico</span>
<span class="t c" style="left:931px;width:128px;top:1445.00px;font-size:31.2px;line-height:40px">C2</span>
<span class="t c" style="left:1061px;width:128px;top:1445.00px;font-size:31.2px;line-height:40px">15</span>
<span class="t" style="left:1194.00px;top:1445.00px;font-size:31.2px;line-height:40px;">622,01</span>
<span class="t" style="left:1383.00px;top:1445.00px;font-size:31.2px;line-height:40px;">339,89</span>
<span class="t" style="left:1570.00px;top:1445.00px;font-size:31.2px;line-height:40px;">52,55</span>
<span class="t" style="left:1944.00px;top:1445.00px;font-size:31.2px;line-height:40px;">54,57</span>
<span class="t" style="left:2131.00px;top:1445.00px;font-size:31.2px;line-height:40px;">231,26</span>
<span class="t" style="left:2318.00px;top:1445.00px;font-size:31.2px;line-height:40px;">1.300,28</span>
<span class="t" style="left:2505.00px;top:1445.00px;font-size:31.2px;line-height:40px;">956,23</span>
<span class="t" style="left:2692.00px;top:1445.00px;font-size:31.2px;line-height:40px;">47,30</span>
<span class="t" style="left:2880.00px;top:1445.00px;font-size:31.2px;line-height:40px;font-weight:bold;">8.805,21</span>
<div class="d1" style="top:1487px"></div><div class="d4" style="top:1488px"></div>
<span class="t" style="left:50.90px;top:1492.00px;font-size:29.6px;line-height:40px;">Celador</span>
<div class="d3" style="top:1534px"></div>
<span class="t" style="left:50.90px;top:1539.00px;font-size:29.6px;line-height:40px;"> - con atención directa al enfermo</span>
<span class="t c" style="left:931px;width:128px;top:1539.00px;font-size:31.2px;line-height:40px">E</span>
<span class="t c" style="left:1061px;width:128px;top:1539.00px;font-size:31.2px;line-height:40px">14</span>
<span class="t" style="left:1194.00px;top:1539.00px;font-size:31.2px;line-height:40px;">569,30</span>
<span class="t" style="left:1383.00px;top:1539.00px;font-size:31.2px;line-height:40px;">329,92</span>
<span class="t" style="left:1570.00px;top:1539.00px;font-size:31.2px;line-height:40px;">35,82</span>
<span class="t" style="left:1944.00px;top:1539.00px;font-size:31.2px;line-height:40px;">113,16</span>
<span class="t" style="left:2131.00px;top:1539.00px;font-size:31.2px;line-height:40px;">139,04</span>
<span class="t" style="left:2318.00px;top:1539.00px;font-size:31.2px;line-height:40px;">1.187,24</span>
<span class="t" style="left:2505.00px;top:1539.00px;font-size:31.2px;line-height:40px;">899,22</span>
<span class="t" style="left:2692.00px;top:1539.00px;font-size:31.2px;line-height:40px;">32,24</span>
<span class="t" style="left:2880.00px;top:1539.00px;font-size:31.2px;line-height:40px;font-weight:bold;">8.054,90</span>
<div class="d1" style="top:1581px"></div><div class="d4" style="top:1582px"></div>
<span class="t" style="left:50.90px;top:1586.00px;font-size:29.6px;line-height:40px;"> - de SUAP</span>
<span class="t c" style="left:931px;width:128px;top:1586.00px;font-size:31.2px;line-height:40px">E</span>
<span class="t c" style="left:1061px;width:128px;top:1586.00px;font-size:31.2px;line-height:40px">14</span>
<span class="t" style="left:1194.00px;top:1586.00px;font-size:31.2px;line-height:40px;">569,30</span>
<span class="t" style="left:1383.00px;top:1586.00px;font-size:31.2px;line-height:40px;">329,92</span>
<span class="t" style="left:1570.00px;top:1586.00px;font-size:31.2px;line-height:40px;">35,82</span>
<span class="t" style="left:1944.00px;top:1586.00px;font-size:31.2px;line-height:40px;">113,16</span>
<span class="t" style="left:2131.00px;top:1586.00px;font-size:31.2px;line-height:40px;">139,04</span>
<span class="t" style="left:2318.00px;top:1586.00px;font-size:31.2px;line-height:40px;">1.187,24</span>
<span class="t" style="left:2505.00px;top:1586.00px;font-size:31.2px;line-height:40px;">899,22</span>
<span class="t" style="left:2692.00px;top:1586.00px;font-size:31.2px;line-height:40px;">32,24</span>
<span class="t" style="left:2880.00px;top:1586.00px;font-size:31.2px;line-height:40px;font-weight:bold;">8.054,90</span>
<div class="d1" style="top:1628px"></div><div class="d4" style="top:1629px"></div>
<span class="t" style="left:50.90px;top:1633.00px;font-size:29.6px;line-height:40px;">  - encargado turno, almacenero, vigilante.</span>
<span class="t c" style="left:931px;width:128px;top:1633.00px;font-size:31.2px;line-height:40px">E</span>
<span class="t c" style="left:1061px;width:128px;top:1633.00px;font-size:31.2px;line-height:40px">13</span>
<span class="t" style="left:1194.00px;top:1633.00px;font-size:31.2px;line-height:40px;">569,30</span>
<span class="t" style="left:1383.00px;top:1633.00px;font-size:31.2px;line-height:40px;">305,59</span>
<span class="t" style="left:1570.00px;top:1633.00px;font-size:31.2px;line-height:40px;">32,27</span>
<span class="t" style="left:1944.00px;top:1633.00px;font-size:31.2px;line-height:40px;">161,46</span>
<span class="t" style="left:2131.00px;top:1633.00px;font-size:31.2px;line-height:40px;">139,04</span>
<span class="t" style="left:2318.00px;top:1633.00px;font-size:31.2px;line-height:40px;">1.207,66</span>
<span class="t" style="left:2505.00px;top:1633.00px;font-size:31.2px;line-height:40px;">874,89</span>
<span class="t" style="left:2692.00px;top:1633.00px;font-size:31.2px;line-height:40px;">29,04</span>
<span class="t" style="left:2880.00px;top:1633.00px;font-size:31.2px;line-height:40px;font-weight:bold;">8.149,89</span>
<div class="d3" style="top:1675px"></div>
<span class="t" style="left:50.90px;top:1680.00px;font-size:29.6px;line-height:40px;"> - sin atención directa al enfermo</span>
<span class="t c" style="left:931px;width:128px;top:1680.00px;font-size:31.2px;line-height:40px">E</span>
<span class="t c" style="left:1061px;width:128px;top:1680.00px;font-size:31.2px;line-height:40px">13</span>
<span class="t" style="left:1194.00px;top:1680.00px;font-size:31.2px;line-height:40px;">569,30</span>
<span class="t" style="left:1383.00px;top:1680.00px;font-size:31.2px;line-height:40px;">305,59</span>
<span class="t" style="left:1570.00px;top:1680.00px;font-size:31.2px;line-height:40px;">32,27</span>
<span class="t" style="left:1944.00px;top:1680.00px;font-size:31.2px;line-height:40px;">90,12</span>
<span class="t" style="left:2131.00px;top:1680.00px;font-size:31.2px;line-height:40px;">139,04</span>
<span class="t" style="left:2318.00px;top:1680.00px;font-size:31.2px;line-height:40px;">1.136,32</span>
<span class="t" style="left:2505.00px;top:1680.00px;font-size:31.2px;line-height:40px;">874,89</span>
<span class="t" style="left:2692.00px;top:1680.00px;font-size:31.2px;line-height:40px;">29,04</span>
<span class="t" style="left:2880.00px;top:1680.00px;font-size:31.2px;line-height:40px;font-weight:bold;">7.721,85</span>
<div class="d1" style="top:1722px"></div><div class="d4" style="top:1723px"></div>
<span class="t" style="left:50.90px;top:1727.00px;font-size:29.6px;line-height:40px;">Planchadora</span>
<span class="t c" style="left:931px;width:128px;top:1727.00px;font-size:31.2px;line-height:40px">E</span>
<span class="t c" style="left:1061px;width:128px;top:1727.00px;font-size:31.2px;line-height:40px">13</span>
<span class="t" style="left:1194.00px;top:1727.00px;font-size:31.2px;line-height:40px;">569,30</span>
<span class="t" style="left:1383.00px;top:1727.00px;font-size:31.2px;line-height:40px;">305,59</span>
<span class="t" style="left:1570.00px;top:1727.00px;font-size:31.2px;line-height:40px;">32,27</span>
<span class="t" style="left:1944.00px;top:1727.00px;font-size:31.2px;line-height:40px;">90,12</span>
<span class="t" style="left:2131.00px;top:1727.00px;font-size:31.2px;line-height:40px;">139,04</span>
<span class="t" style="left:2318.00px;top:1727.00px;font-size:31.2px;line-height:40px;">1.136,32</span>
<span class="t" style="left:2505.00px;top:1727.00px;font-size:31.2px;line-height:40px;">874,89</span>
<span class="t" style="left:2692.00px;top:1727.00px;font-size:31.2px;line-height:40px;">29,04</span>
<span class="t" style="left:2880.00px;top:1727.00px;font-size:31.2px;line-height:40px;font-weight:bold;">7.721,85</span>
<div class="d1" style="top:1769px"></div><div class="d4" style="top:1770px"></div>
<span class="t" style="left:50.90px;top:1774.00px;font-size:29.6px;line-height:40px;">Limpiadora</span>
<span class="t c" style="left:931px;width:128px;top:1774.00px;font-size:31.2px;line-height:40px">E</span>
<span class="t c" style="left:1061px;width:128px;top:1774.00px;font-size:31.2px;line-height:40px">13</span>
<span class="t" style="left:1194.00px;top:1774.00px;font-size:31.2px;line-height:40px;">569,30</span>
<span class="t" style="left:1383.00px;top:1774.00px;font-size:31.2px;line-height:40px;">305,59</span>
<span class="t" style="left:1570.00px;top:1774.00px;font-size:31.2px;line-height:40px;">32,27</span>
<span class="t" style="left:1944.00px;top:1774.00px;font-size:31.2px;line-height:40px;">90,12</span>
<span class="t" style="left:2131.00px;top:1774.00px;font-size:31.2px;line-height:40px;">139,04</span>
<span class="t" style="left:2318.00px;top:1774.00px;font-size:31.2px;line-height:40px;">1.136,32</span>
<span class="t" style="left:2505.00px;top:1774.00px;font-size:31.2px;line-height:40px;">874,89</span>
<span class="t" style="left:2692.00px;top:1774.00px;font-size:31.2px;line-height:40px;">29,04</span>
<span class="t" style="left:2880.00px;top:1774.00px;font-size:31.2px;line-height:40px;font-weight:bold;">7.721,85</span>
<span class="t" style="left:50.10px;top:1821.29px;font-size:26px;line-height:40px;">(5) Puestos</span>
<span class="t" style="left:49.50px;top:1881.42px;font-size:28.5px;line-height:40px;">(2) El personal del Grupo E: Agrupaciones profesionales Ley 7/2007 percibirán la cuantía del complemento de destino de</span>
<span class="t" style="left:1599.80px;top:1882.29px;font-size:26.0px;line-height:40px;">acuerdo con lo dispuesto en el artículo 24.1.B).b) de la Ley 26/2009, de 23 de diciembre, de Presupuestos Generales del</span>
<span class="t" style="left:49.60px;top:1913.79px;font-size:26px;line-height:40px;">Estado para 2010</span>
</div>
</body></html>
